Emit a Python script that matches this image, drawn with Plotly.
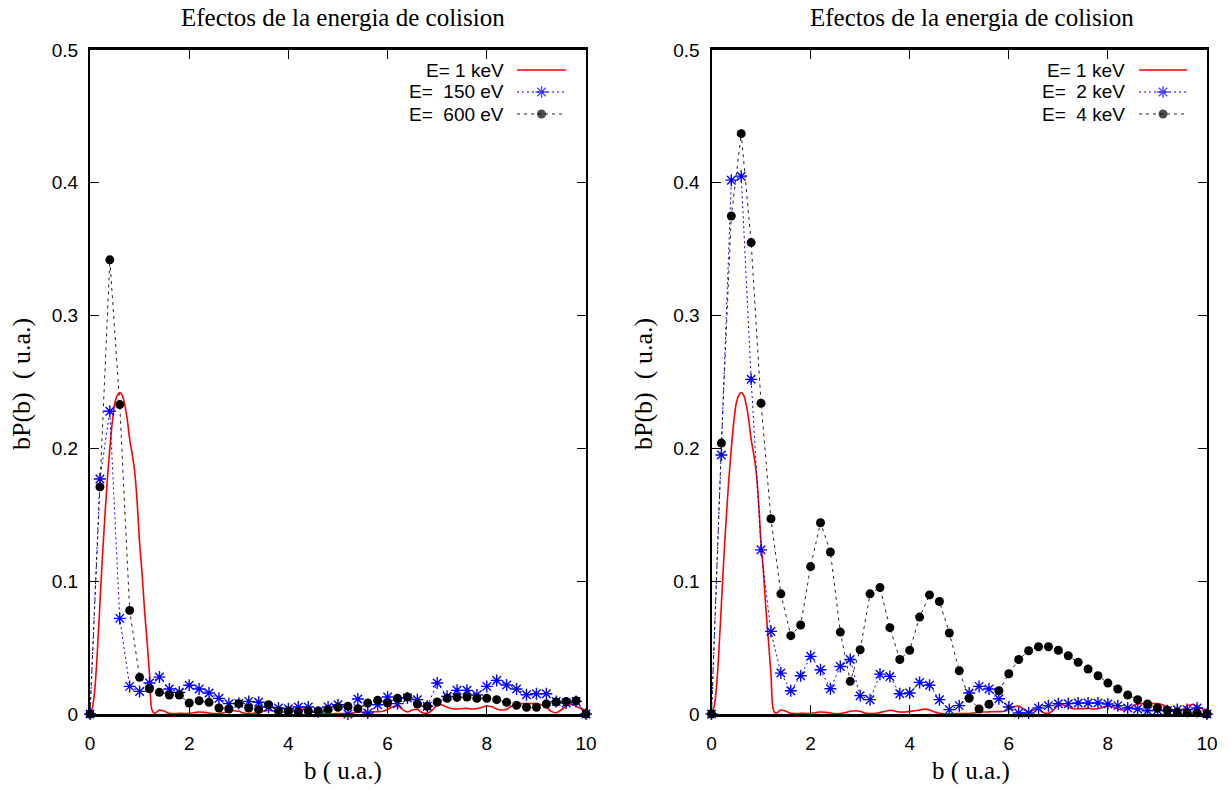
import plotly.graph_objects as go

# impact-parameter grid (u.a.) shared by the sampled series
b = [0.0, 0.2, 0.4, 0.6, 0.8, 1.0, 1.2, 1.4, 1.6, 1.8, 2.0, 2.2, 2.4, 2.6, 2.8,
     3.0, 3.2, 3.4, 3.6, 3.8, 4.0, 4.2, 4.4, 4.6, 4.8, 5.0, 5.2, 5.4, 5.6, 5.8,
     6.0, 6.2, 6.4, 6.6, 6.8, 7.0, 7.2, 7.4, 7.6, 7.8, 8.0, 8.2, 8.4, 8.6, 8.8,
     9.0, 9.2, 9.4, 9.6, 9.8, 10.0]

# E = 150 eV
p_150eV = [0.0, 0.177, 0.228, 0.072, 0.0208, 0.017, 0.0233, 0.0278, 0.0188, 0.0163,
           0.0216, 0.0188, 0.0158, 0.0118, 0.0078, 0.008, 0.0095, 0.0088, 0.0053, 0.0045,
           0.004, 0.0053, 0.0053, 0.0015, 0.0053, 0.007, 0.0, 0.0113, 0.0008, 0.007,
           0.0128, 0.0078, 0.012, 0.0108, 0.0058, 0.0233, 0.0133, 0.0178, 0.0178, 0.0143,
           0.0208, 0.0253, 0.0218, 0.0188, 0.0145, 0.0153, 0.0153, 0.0095, 0.0083, 0.0095,
           0.0]

# E = 600 eV
p_600eV = [0.0, 0.171, 0.342, 0.233, 0.078, 0.0276, 0.019, 0.0163, 0.0143, 0.0143,
           0.0083, 0.010, 0.0088, 0.0045, 0.0038, 0.0078, 0.0045, 0.0033, 0.007, 0.0023,
           0.0023, 0.0015, 0.0023, 0.0023, 0.0033, 0.005, 0.0058, 0.004, 0.0083, 0.0103,
           0.0083, 0.0118, 0.0128, 0.0075, 0.0058, 0.009, 0.0118, 0.0125, 0.0128, 0.0118,
           0.0118, 0.0108, 0.0088, 0.0065, 0.005, 0.005, 0.0075, 0.009, 0.0095, 0.010,
           0.0]

# E = 2 keV
p_2keV = [0.0, 0.195, 0.402, 0.405, 0.252, 0.1236, 0.0622, 0.0308, 0.0175, 0.0288,
          0.0434, 0.0333, 0.019, 0.0358, 0.041, 0.0138, 0.0108, 0.030, 0.0283, 0.0153,
          0.0158, 0.0238, 0.0216, 0.0108, 0.0033, 0.0063, 0.0158, 0.0208, 0.0188, 0.0115,
          0.0053, 0.0008, 0.0008, 0.0045, 0.0063, 0.0078, 0.0078, 0.0083, 0.0083, 0.0083,
          0.0075, 0.0063, 0.0045, 0.0038, 0.0025, 0.0028, 0.0025, 0.0033, 0.0033, 0.0045,
          0.0]

# E = 4 keV
p_4keV = [0.0, 0.204, 0.375, 0.437, 0.355, 0.234, 0.147, 0.0905, 0.059, 0.067,
          0.111, 0.144, 0.122, 0.0617, 0.0246, 0.0484, 0.0905, 0.0952, 0.065, 0.041,
          0.048, 0.073, 0.0897, 0.0847, 0.061, 0.0326, 0.0118, 0.0038, 0.0073, 0.0175,
          0.0303, 0.041, 0.0476, 0.0506, 0.0506, 0.048, 0.0439, 0.039, 0.0338, 0.0288,
          0.0233, 0.0188, 0.0143, 0.0108, 0.0075, 0.0045, 0.0028, 0.0015, 0.0008, 0.0008,
          0.0]

# E = 1 keV, finely sampled curve
b_1keV = [0.0, 0.05, 0.1, 0.15, 0.2, 0.25, 0.3, 0.35, 0.4, 0.45, 0.5, 0.55, 0.6,
          0.65, 0.7, 0.75, 0.8, 0.85, 0.9, 0.95, 1.0, 1.05, 1.1, 1.15, 1.2, 1.25,
          1.3, 1.4, 1.5, 1.6, 1.7, 1.8, 1.9, 2.0, 2.1, 2.2, 2.3, 2.4, 2.5, 2.6, 2.7,
          2.8, 2.9, 3.0, 3.1, 3.2, 3.3, 3.4, 3.5, 3.6, 3.7, 3.8, 3.9, 4.0, 4.1, 4.2,
          4.3, 4.4, 4.5, 4.6, 4.7, 4.8, 4.9, 5.0, 5.1, 5.2, 5.3, 5.4, 5.5, 5.6, 5.7,
          5.8, 5.9, 6.0, 6.1, 6.2, 6.3, 6.4, 6.5, 6.6, 6.7, 6.8, 6.9, 7.0, 7.1, 7.2,
          7.3, 7.4, 7.5, 7.6, 7.7, 7.8, 7.9, 8.0, 8.1, 8.2, 8.3, 8.4, 8.5, 8.6, 8.7,
          8.8, 8.9, 9.0, 9.1, 9.2, 9.3, 9.4, 9.5, 9.6, 9.7, 9.8, 9.9, 10.0]
p_1keV = [0.0, 0.005, 0.02, 0.048, 0.083, 0.118, 0.149, 0.177, 0.2, 0.22, 0.234, 0.24, 0.242,
          0.24, 0.233, 0.222, 0.207, 0.196, 0.183, 0.16, 0.129, 0.106, 0.078, 0.055, 0.03, 0.003,
          0.0005, 0.003, 0.002, 0.0005, 0.0003, 0.0005, 0.0004, 0.0006, 0.001, 0.0015, 0.0012,
          0.0008, 0.0003, 0.0003, 0.001, 0.002, 0.0025, 0.002, 0.0008, 0.0003, 0.0005, 0.0012,
          0.002, 0.0028, 0.0022, 0.0015, 0.0015, 0.002, 0.0025, 0.003, 0.0037, 0.003, 0.0015,
          0.0005, 0.0002, 0.0002, 0.0002, 0.0003, 0.0003, 0.0003, 0.0008, 0.0015, 0.0015, 0.0016,
          0.0017, 0.0018, 0.002, 0.0035, 0.0055, 0.006, 0.0035, 0.0015, 0.003, 0.0035, 0.001,
          0.0005, 0.003, 0.0065, 0.0068, 0.005, 0.004, 0.0038, 0.004, 0.0042, 0.0038, 0.004,
          0.005, 0.006, 0.0055, 0.0038, 0.003, 0.0035, 0.006, 0.0075, 0.0078, 0.0078, 0.0078,
          0.0078, 0.007, 0.005, 0.002, 0.001, 0.003, 0.006, 0.0072, 0.006, 0.004, 0.003]

titles = ["Efectos de la energia de colision", "Efectos de la energia de colision"]
legend_left = ["E= 1 keV", "E=  150 eV", "E=  600 eV"]
legend_right = ["E= 1 keV", "E=  2 keV", "E=  4 keV"]
x_ticks = [0, 2, 4, 6, 8, 10]
y_ticks = [0, 0.1, 0.2, 0.3, 0.4, 0.5]

W, H = 1230, 789
SANS = "Liberation Sans, Arial, sans-serif"
SERIF = "Liberation Serif, Times New Roman, serif"

RED = dict(color="#ff0000", width=1.6)
BLUE = dict(color="#0000ff", width=1, dash="2px,3px")
BLACK = dict(color="#222222", width=1, dash="3px,4px")
STAR = dict(symbol="asterisk-open", size=10, color="#0000ff",
            line=dict(color="#0000ff", width=1.4))
DOT = dict(symbol="circle", size=9, color="#000000", line=dict(width=0))


def px(xp):
    return xp / W


def py(yp):
    return 1 - yp / H


fig = go.Figure()

panels = [
    dict(xa="x", ya="y", mid=p_150eV, high=p_600eV, names=legend_left),
    dict(xa="x2", ya="y2", mid=p_2keV, high=p_4keV, names=legend_right),
]

for p in panels:
    fig.add_trace(go.Scatter(x=b_1keV, y=p_1keV, mode="lines", line=RED,
                             line_shape="spline", xaxis=p["xa"], yaxis=p["ya"],
                             name=p["names"][0], showlegend=False, cliponaxis=False))
    fig.add_trace(go.Scatter(x=b, y=p["mid"], mode="lines+markers", line=BLUE, marker=STAR,
                             xaxis=p["xa"], yaxis=p["ya"], name=p["names"][1],
                             showlegend=False, cliponaxis=False))
    fig.add_trace(go.Scatter(x=b, y=p["high"], mode="lines+markers", line=BLACK, marker=DOT,
                             xaxis=p["xa"], yaxis=p["ya"], name=p["names"][2],
                             showlegend=False, cliponaxis=False))

# key samples drawn in small helper axes (x: 0..1 across the key, y: pixel rows)
key_rows = [70, 92, 114]
key_axes = [("x3", "y3"), ("x4", "y4")]
for xa, ya in key_axes:
    fig.add_trace(go.Scatter(x=[0, 1], y=[key_rows[0]] * 2, mode="lines", line=RED,
                             xaxis=xa, yaxis=ya, showlegend=False, hoverinfo="skip"))
    fig.add_trace(go.Scatter(x=[0, 0.5, 1], y=[key_rows[1]] * 3, mode="lines+markers",
                             line=BLUE, marker=dict(STAR, size=[0, 10, 0]),
                             xaxis=xa, yaxis=ya, showlegend=False, hoverinfo="skip",
                             cliponaxis=False))
    fig.add_trace(go.Scatter(x=[0, 0.5, 1], y=[key_rows[2]] * 3, mode="lines+markers",
                             line=BLACK, marker=dict(DOT, size=[0, 9, 0]),
                             xaxis=xa, yaxis=ya, showlegend=False, hoverinfo="skip",
                             cliponaxis=False))

x_common = dict(range=[0, 10], tickvals=x_ticks, ticks="inside", ticklen=9, tickwidth=1,
                tickcolor="black", showline=True, linewidth=3, linecolor="black",
                mirror="ticks", showgrid=False, zeroline=False, automargin=False,
                tickfont=dict(family=SANS, size=19, color="black"), ticklabelstandoff=10)
y_common = dict(range=[0, 0.5], tickvals=y_ticks, ticks="inside", ticklen=9, tickwidth=1,
                tickcolor="black", showline=True, linewidth=2, linecolor="black",
                mirror="ticks", showgrid=False, zeroline=False, automargin=False,
                tickfont=dict(family=SANS, size=19, color="black"), ticklabelstandoff=6)

top, bottom = 50, 714
ydom = [py(bottom), py(top)]
hidden = dict(visible=False, showgrid=False, zeroline=False, fixedrange=True, automargin=False)

fig.update_layout(
    width=W, height=H, autosize=False,
    margin=dict(l=0, r=0, t=0, b=0, pad=0),
    paper_bgcolor="white", plot_bgcolor="white",
    xaxis=dict(x_common, domain=[px(90), px(586)], anchor="y"),
    yaxis=dict(y_common, domain=ydom, anchor="x"),
    xaxis2=dict(x_common, domain=[px(711.5), px(1207)], anchor="y2"),
    yaxis2=dict(y_common, domain=ydom, anchor="x2"),
    xaxis3=dict(hidden, range=[0, 1], domain=[px(517), px(566)], anchor="y3"),
    yaxis3=dict(hidden, range=[126, 58], domain=[py(126), py(58)], anchor="x3"),
    xaxis4=dict(hidden, range=[0, 1], domain=[px(1139), px(1187)], anchor="y4"),
    yaxis4=dict(hidden, range=[126, 58], domain=[py(126), py(58)], anchor="x4"),
    showlegend=False,
)

annotations = []
# panel titles
for cx, t in zip([343, 972], titles):
    annotations.append(dict(text=t, x=px(cx), y=py(17), xref="paper", yref="paper",
                            xanchor="center", yanchor="middle", showarrow=False,
                            font=dict(family=SERIF, size=25, color="black")))
# axis titles
for cx in [343, 971]:
    annotations.append(dict(text="b\u00a0( u.a.)", x=px(cx), y=py(771), xref="paper",
                            yref="paper", xanchor="center", yanchor="middle", showarrow=False,
                            font=dict(family=SERIF, size=25, color="black")))
for cx in [22, 644]:
    annotations.append(dict(text="bP(b)\u00a0\u00a0(\u00a0u.a.)", x=px(cx), y=py(384),
                            xref="paper", yref="paper", textangle=-90,
                            xanchor="center", yanchor="middle", showarrow=False,
                            font=dict(family=SERIF, size=26, color="black")))
# key labels
for right_x, names in [(506, legend_left), (1127, legend_right)]:
    for row, name in zip(key_rows, names):
        annotations.append(dict(text=name.replace(" ", "\u00a0"), x=px(right_x), y=py(row),
                                xref="paper", yref="paper", xanchor="right",
                                yanchor="middle", showarrow=False,
                                font=dict(family=SANS, size=19, color="black")))
fig.update_layout(annotations=annotations)

fig.write_html("out.html")
